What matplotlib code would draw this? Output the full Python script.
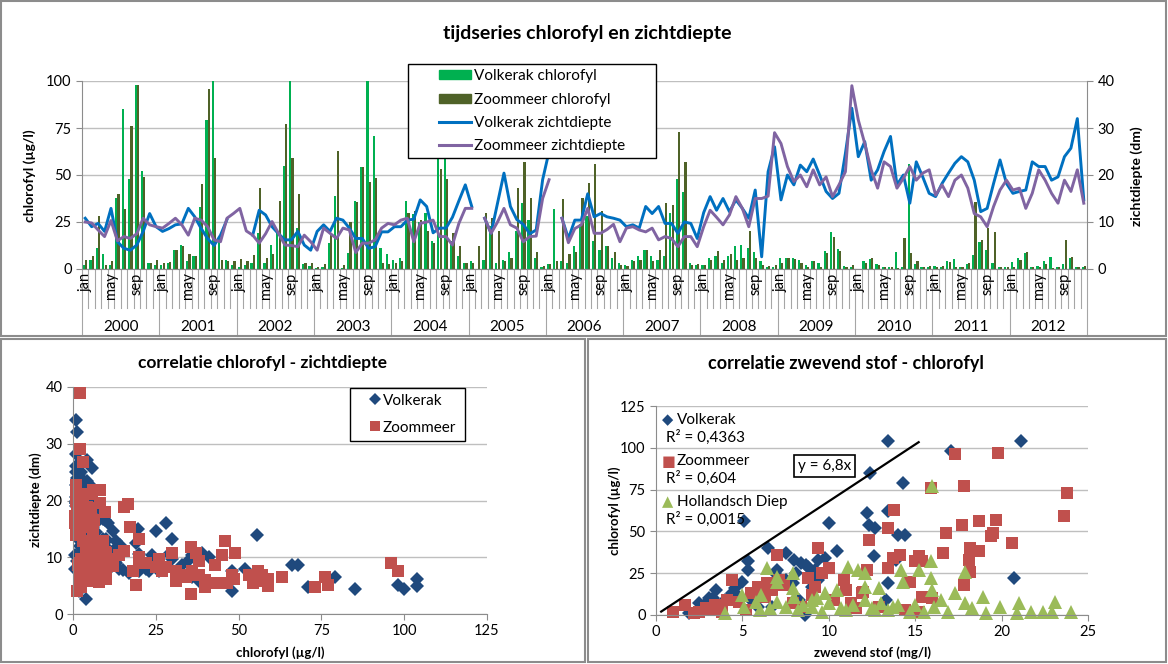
import numpy as np
import matplotlib.pyplot as plt
import matplotlib.transforms as mtransforms
from matplotlib.patches import Rectangle, Patch
from matplotlib.lines import Line2D

plt.rcParams['font.family'] = ['Lato', 'DejaVu Sans']

nan = np.nan
years = list(range(2000, 2013))
month_names = {0: 'jan', 4: 'may', 8: 'sep'}

# monthly chlorofyl (ug/l), jan 2000 - dec 2012
volkerak_chl = [
    2, 5, 11, 8, 2, 38, 85, 48, 98, 52, 3, 2,                 # 2000
    2, 3, 10, 13, 4, 7, 33, 79, 104, 17, 5, 2,                # 2001
    1.2, 2, 3, 19, 3, 13, 20, 55, 104, 22, 2.5, 1.8,          # 2002
    0.7, 1.2, 14, 39, 0.7, 8.7, 36, 54, 100, 71, 11, 8,       # 2003
    5, 6, 36, 29, 25, 30, 15, 68, 66, 15, 7, 3,               # 2004
    4, nan, 5, 23, 3, 5, 9, 20, 35, 26, 6, 1,                 # 2005
    2.5, 32, 4, 3, 12, 24, 28, 15, 10, 12, 6, 3,              # 2006
    2, 5, 7, 10, 7, 5, 7, 30, 48, 41, 3, 2,                   # 2007
    2, 6, 7, 3, 7, 12, 13, 11, 9, 4, 1, 1,                    # 2008
    5.7, 6, 5.7, 4.8, 2, 4.3, 3, 9.6, 19.5, 10.6, 1.8, 1,     # 2009
    nan, 4.3, 5.3, 2.5, 1, 1, 9.2, 1, 55.7, 2.5, 1, 1,        # 2010
    1.8, 1.2, 4.3, 5.3, 1.2, 2.7, 7.4, 14.2, 10, 3, 1.2, 1.2, # 2011
    3.5, 6, 8.3, 1, 1.8, 4.3, 6.6, 1, 2.5, 5.7, 1.2, 1.2,     # 2012
]
zoommeer_chl = [
    5, 7, 28, 2, 4.5, 40, 32, 76, 98, 49, 3, 5,
    3, 3.5, 10, 12, 8, 7, 45, 96, 59, 5, 4, 4.4,
    5.3, 4.4, 7.4, 43, 6, 8, 36, 77, 59, 40, 3, 3.4,
    1.2, 2.5, 18, 63, 2, 25, 35.5, 54.4, 46.5, 48.6, 3, 2.5,
    3, 4, 30, 31, 26, 20, 14, 53, 48, 19, 12, 3,
    3, 12, 30, 27, 20, 4, 6, 43, 57, 38, 9, 1.5,
    2.7, 4, 37, 8, 9, 38, 46, 56, 31, 12, 9, 2,
    1.5, 4, 5, 10, 4, 10, 35, 34, 73, 57, 2, 2.5,
    2, 5, 9.6, 5, 8, 5, 6, 20, 6, 2, 1.5, 2,
    3, 6, 5.3, 3, 1.2, 4.3, 1.2, 8.3, 17.2, 9.6, 1.2, 2,
    nan, 3, 5.7, 2, 1, 1, 0.7, 16.7, 8.3, 4.3, 0.9, 1.7,
    1.2, 1.6, 3.9, 1.2, 0.9, 3, 35.5, 15.4, 22, 19.9, 1.2, 1.2,
    1.2, 4.8, 9.2, 1, 1.2, 2.5, 0.7, 1, 15.4, 6.2, 1.2, 1.8,
]
# monthly zichtdiepte (dm)
volkerak_zd = [
    10.8, 9, 9.7, 8, 12.9, 5.8, 4.4, 4, 5.1, 8, 11.8, 9,
    8, 8.6, 9.4, 9.6, 12.9, 11.1, 8.6, 6.5, 5.0, 7.2, 10.5, nan,
    nan, nan, 7.2, 12.5, 11.5, 9, 7.5, 6.2, 6.2, 8, 5.1, 4,
    8, 9.4, 8, 10.8, 10.4, 8.7, 6.5, 6.5, 4.4, 4.75, 7.9, 7.9,
    9, 9, 10.4, 10.6, 14.7, 13.3, 7.7, 8.7, 8.7, 11, 14.5, 17.9,
    13.3, nan, 10.8, 7.6, 14, 20.4, 13.3, 10.5, 9.5, 7.5, 8.3, 19,
    25, nan, 10.8, 6.5, 10.4, 10.4, 16, 11.1, 11.8, 11.1, 10.8, 10.4,
    9, 9.4, 8.7, 13.3, 11.8, 13.3, 9.7, 9.7, 7.6, 10, 9.7, 6.5,
    12, 15.4, 12.5, 15, 12.2, 14.7, 12.9, 10.8, 16.8, 2.6, 20.7, 26,
    14.7, 20, 17.9, 22.1, 20.7, 23.4, 20, 16.5, 15, 16.1, 24.6, 34.2,
    23.9, 27.1, 18.9, 21.1, 25, 28.2, 17.9, 20, 14, 22.8, 19.6, 16.1,
    15.4, 18.2, 20.4, 22.5, 23.9, 22.8, 18.9, 12.2, 12.9, 18.2, 23.2, 18.2,
    16.1, 16.5, 16.8, 22.8, 21.8, 21.8, 18.9, 19.6, 23.9, 25.7, 32, 14.7,
]
zoommeer_zd = [
    10, 9.8, 8.3, 6.9, 10.3, 6, 6.9, 6.5, 7.5, 10.8, 9.4, 9,
    8.7, 9.7, 10.8, 9.4, 7.2, 10.8, 10.4, 9, 6.2, 5.8, 10.8, 11.8,
    12.9, 8.1, 7.2, 5.5, 7.5, 10.1, 7.6, 5.1, 5, 4.75, 7.2, 5.8,
    4.0, 8.7, 7.6, 6.5, 8.7, 8.3, 3.5, 5.5, 5.5, 6.2, 8.7, 9.7,
    9.4, 10.4, 10.8, 5.8, 9.7, 10, 10.4, 6.9, 6.9, 5.1, 9.7, 12.9,
    12.9, nan, 10.8, 7.6, 10, 12.9, 9.4, 8.7, 5.8, 6.9, 7.0, 15,
    19, nan, 10.8, 5.6, 8.6, 9.4, 12.9, 7.6, 7.6, 8.4, 9.5, 5.8,
    8.7, 9, 8.3, 7.9, 8.7, 6.2, 6.9, 6.5, 4.75, 6.9, 6.9, 4.75,
    9, 12.5, 11, 9.4, 11.5, 15.4, 12.9, 9, 15, 15, 15.5, 29,
    26.7, 21.8, 18.6, 20, 17.5, 21.1, 17.9, 19.6, 15.4, 17.9, 20.7, 39,
    31.7, 26.7, 21.1, 17.2, 22.8, 21.8, 17.2, 19.3, 21.8, 18.9, 20.4, 21.1,
    15.7, 17.9, 15.4, 18.9, 20, 17.2, 11.8, 11.1, 9, 13.3, 16.8, 18.9,
    16.8, 17.2, 12.9, 16.1, 21.1, 18.9, 16.1, 14, 18.9, 16.5, 21.1, 14,
]

# zwevend stof (mg/l) vs chlorofyl (ug/l)
vk_ss = [5.1, 12.4, 13.4, 14.3, 17.1, 21.1, 20.7, 12.2, 13.4, 12.3,
         12.7, 14.0, 14.4, 12.6, 10.0, 10.5, 6.5, 13.4, 13.3, 5.3,
         5.3, 5.0, 3.5, 3.05, 2.5, 1.9, 7.5, 8.0, 8.4, 8.8,
         9.2, 9.4, 9.8, 7.0, 7.5, 7.9, 4.4, 4.8, 4.0, 5.5,
         5.9, 6.7, 8.6, 8.3, 9.4, 9.0, 2.8, 3.3, 4.6, 6.1,
         6.9, 8.1, 8.7, 9.1, 13.9, 6.2]
vk_ss_chl = [56, 85, 104, 79, 98, 104, 22, 61, 62, 54,
             52, 48, 48, 35, 55, 38, 40, 19, 9, 32,
             27, 20, 15, 10, 7, 1, 37, 33, 31, 29,
             27, 33, 34, 27, 21, 19, 13, 11, 9, 9,
             5, 5, 0, 9, 21, 17, 6, 10, 16, 14,
             25, 25, 30, 24, 33, 12]
zm_ss = [1.0, 1.7, 2.5, 3.1, 3.8, 4.4, 4.1, 5.5, 5.9, 6.4,
         7.0, 7.1, 6.7, 7.9, 8.4, 9.4, 10.0, 9.6, 9.2, 9.0,
         10.9, 11.0, 11.3, 12.2, 12.3, 11.9, 13.4, 13.4, 13.8, 13.7,
         14.1, 14.7, 15.2, 15.0, 15.4, 15.4, 16.0, 15.9, 16.6, 16.8,
         17.3, 17.7, 17.8, 17.8, 18.2, 18.2, 18.1, 18.7, 18.7, 19.4,
         19.5, 19.7, 19.8, 20.6, 23.6, 23.8, 12.9, 14.4, 15.2, 2.2,
         2.9, 3.4, 4.8, 5.2, 6.0, 6.3, 7.4, 8.8, 10.3, 11.6,
         12.0]
zm_ss_chl = [2, 6, 2, 3, 2, 21, 9, 13, 17, 19,
             36, 21, 15, 7, 5, 40, 28, 25, 17, 12,
             21, 15, 7, 27, 45, 13, 52, 28, 63, 34,
             36, 20, 35, 32, 32, 11, 10, 76, 37, 49,
             96, 54, 77, 18, 26, 40, 33, 56, 38, 47,
             49, 57, 97, 43, 59, 73, 5, 3, 2, 1,
             4, 6, 8, 3, 14, 11, 18, 22, 9, 4,
             14]
hd_ss = [4, 5, 5.1, 6, 6.1, 6.4, 7, 7, 7, 7.5,
         7.9, 7.9, 8, 8.2, 9, 9, 9.6, 9.8, 10, 10.5,
         11, 11.1, 11.7, 12.1, 12.1, 12.1, 12.5, 12.9, 13, 13.4,
         14, 14.2, 14.3, 14.7, 15.2, 15, 15.5, 15.9, 15.9, 16,
         16, 16.1, 16.5, 16.9, 17.3, 17.9, 17.9, 18.3, 18.9, 19.1,
         19.9, 20.9, 21, 21.7, 22.4, 22.9, 23.1, 24, 5.8, 6.6,
         8.5, 9.3, 10.7, 11.4, 12.7, 13.7]
hd_ss_chl = [1, 12, 5, 3, 12, 28, 23, 20, 8, 5,
             25, 16, 11, 3, 9, 5, 2, 13, 7, 15,
             3, 29, 27, 25, 17, 9, 4, 16, 7, 3,
             6, 27, 20, 2, 27, 6, 2, 32, 22, 15,
             77, 5, 9, 2, 13, 26, 7, 4, 11, 1,
             5, 1, 7, 2, 2, 2, 8, 2, 8, 4,
             6, 10, 4, 6, 3, 5]
r2_labels = ['R\u00b2 = 0,4363', 'R\u00b2 = 0,604', 'R\u00b2 = 0,0015']
slope = 6.8
slope_x = [0.3, 15.2]

GREEN = '#00B050'
OLIVE = '#4F6228'
BLUE = '#0070C0'
PURPLE = '#8064A2'
NAVY = '#1F497D'
RED = '#C0504D'
LIME = '#9BBB59'
GRID = '#BFBFBF'
AXIS = '#8C8C8C'

W, H = 1168, 664
fig = plt.figure(figsize=(W / 100, H / 100), dpi=100)


def fbox(x0, y0, x1, y1):
    # pixel box (top-left origin) -> figure fraction rect
    return [x0 / W, 1 - y1 / H, (x1 - x0) / W, (y1 - y0) / H]


def frame(ax, x0, y0, x1, y1):
    # white legend box drawn in figure pixels
    r = Rectangle((x0 / W, 1 - y1 / H), (x1 - x0) / W, (y1 - y0) / H,
                  transform=fig.transFigure, facecolor='white', edgecolor='black',
                  lw=1.0, zorder=8, clip_on=False)
    ax.add_artist(r)


# panel borders
for x0, y0, x1, y1 in [(1, 1, 1166, 336), (1, 339, 585, 662), (588, 339, 1166, 662)]:
    fig.add_artist(Rectangle((x0 / W, 1 - y1 / H), (x1 - x0) / W, (y1 - y0) / H,
                             transform=fig.transFigure, fill=False,
                             edgecolor='#8C8C8C', lw=1.5))


def style(ax):
    for s in ['top', 'right']:
        ax.spines[s].set_visible(False)
    for s in ['left', 'bottom']:
        ax.spines[s].set_color(AXIS)
    ax.tick_params(colors=AXIS, labelcolor='black', labelsize=10.5, length=4)
    ax.yaxis.grid(True, color=GRID, lw=1)
    ax.set_axisbelow(True)


# ---------------- time series ----------------
n = len(volkerak_chl)
idx = np.arange(n)
ax = fig.add_axes(fbox(82, 81, 1087, 269))
ax2 = ax.twinx()
style(ax)
ax.bar(idx - 0.18, np.nan_to_num(volkerak_chl), width=0.34, color=GREEN, lw=0)
ax.bar(idx + 0.18, np.nan_to_num(zoommeer_chl), width=0.34, color=OLIVE, lw=0)
ax.set_xlim(-0.5, n - 0.5)
ax.set_ylim(0, 100)
ax.set_yticks([0, 25, 50, 75, 100])
ax.set_xticks([])

ax2.plot(idx, volkerak_zd, color=BLUE, lw=2.1)
ax2.plot(idx, zoommeer_zd, color=PURPLE, lw=2.1)
ax2.set_ylim(0, 40)
ax2.set_yticks([0, 10, 20, 30, 40])
ax2.spines['top'].set_visible(False)
ax2.spines['left'].set_visible(False)
ax2.spines['bottom'].set_visible(False)
ax2.spines['right'].set_color(AXIS)
ax2.tick_params(colors=AXIS, labelcolor='black', labelsize=10.5, length=4)

# category axis: months and years
tr = mtransforms.blended_transform_factory(ax.transData, ax.transAxes)
for b in range(n + 1):
    yb = -0.357 if b % 12 == 0 else -0.207
    ax.add_line(Line2D([b - 0.5, b - 0.5], [0, yb], transform=tr, color='#A6A6A6',
                       lw=0.8, clip_on=False))
for i in range(n):
    if i % 12 in month_names:
        ax.text(i, -0.018, month_names[i % 12], transform=tr, rotation=90,
                ha='center', va='top', fontsize=10.5)
for k, yr in enumerate(years):
    ax.text(k * 12 + 5.5, -0.31, str(yr), transform=tr, ha='center', va='center',
            fontsize=11)

frame(ax2, 408, 64, 656, 158)
handles = [Patch(color=GREEN), Patch(color=OLIVE),
           Line2D([], [], color=BLUE, lw=2.2), Line2D([], [], color=PURPLE, lw=2.2)]
labels = ['Volkerak chlorofyl', 'Zoommeer chlorofyl',
          'Volkerak zichtdiepte', 'Zoommeer zichtdiepte']
leg = ax2.legend(handles, labels, loc='upper left',
                 bbox_to_anchor=(436 / W, 1 - 66 / H), bbox_transform=fig.transFigure,
                 fontsize=11, frameon=False, handlelength=2.1, handleheight=0.55,
                 labelspacing=0.62, borderpad=0.2, handletextpad=0.2,
                 borderaxespad=0)
leg.set_zorder(10)

fig.text(587 / W, 1 - 33 / H, 'tijdseries chlorofyl en zichtdiepte', ha='center',
         va='center', fontsize=14, fontweight='bold')
fig.text(30 / W, 1 - 176 / H, 'chlorofyl (\u00b5g/l)', rotation=90, ha='center',
         va='center', fontsize=10, fontweight='bold')
fig.text(1137 / W, 1 - 176 / H, 'zichtdiepte (dm)', rotation=90, ha='center',
         va='center', fontsize=10, fontweight='bold')

# ---------------- correlatie chlorofyl - zichtdiepte ----------------
axl = fig.add_axes(fbox(73, 387, 487, 614))
style(axl)
vc = np.array(volkerak_chl, float)
vz = np.array(volkerak_zd, float)
zc = np.array(zoommeer_chl, float)
zz = np.array(zoommeer_zd, float)
mv = ~np.isnan(vc) & ~np.isnan(vz)
mz = ~np.isnan(zc) & ~np.isnan(zz)
axl.plot(vc[mv], vz[mv], 'D', color=NAVY, ms=7.5, mew=0, ls='none', label='Volkerak',
         clip_on=False)
axl.plot(zc[mz], zz[mz], 's', color=RED, ms=9, mew=0, ls='none', label='Zoommeer',
         clip_on=False)
axl.set_xlim(0, 125)
axl.set_ylim(0, 40)
axl.set_xticks([0, 25, 50, 75, 100, 125])
axl.set_yticks([0, 10, 20, 30, 40])
frame(axl, 350, 388, 465, 441)
lg = axl.legend(loc='upper left', bbox_to_anchor=(368 / W, 1 - 392 / H),
                bbox_transform=fig.transFigure, fontsize=11, frameon=False,
                borderaxespad=0, handlelength=0.7, handletextpad=0.15,
                labelspacing=0.85, borderpad=0.1, markerscale=0.8)
lg.set_zorder(10)
fig.text(262 / W, 1 - 363 / H, 'correlatie chlorofyl - zichtdiepte', ha='center',
         va='center', fontsize=12.5, fontweight='bold')
fig.text(36 / W, 1 - 500 / H, 'zichtdiepte (dm)', rotation=90, ha='center',
         va='center', fontsize=9.5, fontweight='bold')
fig.text(280 / W, 1 - 653 / H, 'chlorofyl (\u00b5g/l)', ha='center', va='center',
         fontsize=9.5, fontweight='bold')

# ---------------- correlatie zwevend stof - chlorofyl ----------------
axr = fig.add_axes(fbox(656, 406, 1088, 615))
style(axr)
axr.plot(vk_ss, vk_ss_chl, 'D', color=NAVY, ms=7.2, mew=0, ls='none', clip_on=False)
axr.plot(zm_ss, zm_ss_chl, 's', color=RED, ms=8.5, mew=0, ls='none', clip_on=False)
axr.plot(hd_ss, hd_ss_chl, '^', color=LIME, ms=9.5, mew=0, ls='none', clip_on=False)
sx = np.array(slope_x)
axr.plot(sx, slope * sx, color='black', lw=1.6)
axr.set_xlim(0, 25)
axr.set_ylim(0, 125)
axr.set_xticks([0, 5, 10, 15, 20, 25])
axr.set_yticks([0, 25, 50, 75, 100, 125])
axr.text(0.391, 0.713, 'y = 6,8x', transform=axr.transAxes, fontsize=11,
         ha='center', va='center',
         bbox=dict(boxstyle='square,pad=0.25', fc='white', ec='black', lw=1.2))

entries = [('\u25c6', NAVY, 'Volkerak'), ('\u25a0', RED, 'Zoommeer'),
           ('\u25b2', LIME, 'Hollandsch Diep')]
for k, (sym, col, name) in enumerate(entries):
    yy = 1 - (420 + 41 * k) / H
    fig.text(662 / W, yy, sym, color=col, fontsize=10.5, ha='left', va='center',
             family='DejaVu Sans')
    fig.text(677 / W, yy, name, fontsize=11, ha='left', va='center')
    fig.text(666 / W, yy - 17 / H, r2_labels[k], fontsize=11, ha='left', va='center')

fig.text(846 / W, 1 - 363 / H, 'correlatie zwevend stof - chlorofyl', ha='center',
         va='center', fontsize=13, fontweight='bold')
fig.text(615 / W, 1 - 511 / H, 'chlorofyl (\u00b5g/l)', rotation=90, ha='center',
         va='center', fontsize=9.5, fontweight='bold')
fig.text(872 / W, 1 - 653 / H, 'zwevend stof (mg/l)', ha='center', va='center',
         fontsize=9.5, fontweight='bold')

fig.savefig('out.png', dpi=100)
